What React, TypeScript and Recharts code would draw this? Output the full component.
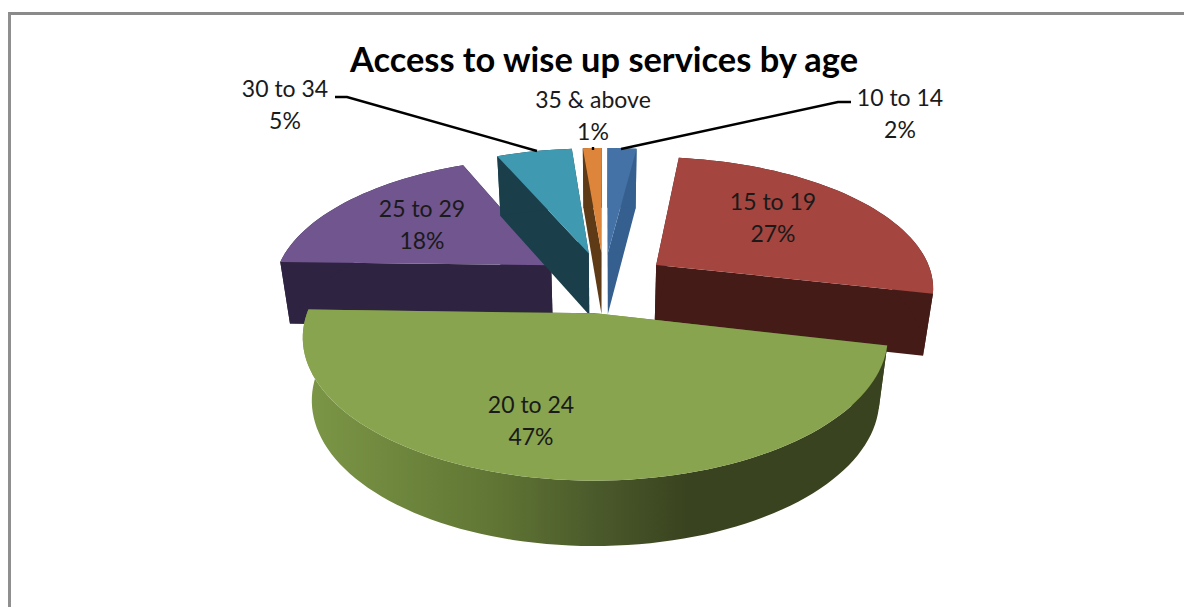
import { PieChart, Pie } from "recharts";

const names = ["10 to 14", "15 to 19", "20 to 24", "25 to 29", "30 to 34", "35 & above"];
const shares = [2, 26.6, 46.9, 18.1, 5.2, 1.3];

const topColors = ["#4472a6", "#a5453f", "#88a44e", "#70558f", "#3f99b1", "#dd863b"];
const sideColors = ["#355f8e", "#451b18", "url(#greenWall)", "#2e2340", "#1a3e4a", "#5f3a16"];

const data = names.map((name, i) => ({ name, value: shares[i], top: topColors[i], side: sideColors[i] }));

// exploded pie, seen in perspective from above
const EXPLODE = 0.234;
const PERSP = 0.158;
const TOP_FLAT = 0.467;
const BOTTOM_FLAT = 0.475;
const BOTTOM_SHRINK = 0.97;
const DEPTH = 62;
const FONT = "Lato, 'Open Sans', sans-serif";

// label centres, with optional leader lines
const labelSpots: Record<string, { x: number; y: number; leader?: string }> = {
  "10 to 14": { x: 900, y: 97, leader: "621,149 838,102 851,102" },
  "15 to 19": { x: 773, y: 201 },
  "20 to 24": { x: 531, y: 404 },
  "25 to 29": { x: 422, y: 208 },
  "30 to 34": { x: 285, y: 88, leader: "335,97 347,97 537,151" },
  "35 & above": { x: 593, y: 99, leader: "593,147 593,150" },
};

function Wedge(props: any) {
  const { cx, cy, outerRadius: R, startAngle, endAngle, payload } = props;
  const mid = ((startAngle + endAngle) / 2) * (Math.PI / 180);
  const ox = Math.cos(mid) * EXPLODE;
  const oy = -Math.sin(mid) * EXPLODE;

  const project = (ux: number, uy: number, bottom: boolean) => {
    const u = ux + ox;
    const v = uy + oy;
    const k = 1 / (1 - PERSP * v);
    if (bottom) {
      return `${cx + R * BOTTOM_SHRINK * u * k},${cy + DEPTH + R * BOTTOM_FLAT * v * k}`;
    }
    return `${cx + R * u * k},${cy + R * TOP_FLAT * v * k}`;
  };

  const rim: [number, number][] = [];
  const steps = Math.max(2, Math.ceil(Math.abs(endAngle - startAngle) / 2));
  for (let i = 0; i <= steps; i++) {
    const a = ((startAngle + ((endAngle - startAngle) * i) / steps) * Math.PI) / 180;
    rim.push([Math.cos(a), -Math.sin(a)]);
  }
  const first = rim[0];
  const last = rim[rim.length - 1];

  const topFace = [project(0, 0, false), ...rim.map((p) => project(p[0], p[1], false))].join(" ");
  const wall = [
    ...rim.map((p) => project(p[0], p[1], false)),
    ...rim.slice().reverse().map((p) => project(p[0], p[1], true)),
  ].join(" ");
  const cut = (p: [number, number]) =>
    [project(0, 0, false), project(p[0], p[1], false), project(p[0], p[1], true), project(0, 0, true)].join(" ");

  return (
    <g>
      <polygon points={cut(last)} fill={payload.side} />
      <polygon points={cut(first)} fill={payload.side} />
      <polygon points={wall} fill={payload.side} />
      <polygon points={topFace} fill={payload.top} />
    </g>
  );
}

function SliceLabel(props: any) {
  const spot = labelSpots[props.name];
  return (
    <g>
      {spot.leader && <polyline points={spot.leader} fill="none" stroke="#000" strokeWidth={2.4} />}
      <text x={spot.x} y={spot.y} textAnchor="middle" dominantBaseline="central" fill="#1a1a1a" fontSize={23} fontFamily={FONT}>
        {props.name}
      </text>
      <text x={spot.x} y={spot.y + 32} textAnchor="middle" dominantBaseline="central" fill="#1a1a1a" fontSize={23} fontFamily={FONT}>
        {`${Math.round(props.value)}%`}
      </text>
    </g>
  );
}

export default function App() {
  return (
    <div style={{ position: "absolute", left: 0, top: 0, width: 1184, height: 607, background: "#fff", overflow: "hidden" }}>
      <div style={{ position: "absolute", left: 8, top: 12, right: -10, bottom: -10, borderTop: "3px solid #8a8a8a", borderLeft: "3px solid #8f8f8f" }} />
      <PieChart width={1184} height={607} margin={{ top: 0, right: 0, bottom: 0, left: 0 }}>
        <defs>
          <linearGradient id="greenWall" x1="0" y1="0" x2="1" y2="0">
            <stop offset="0" stopColor="#7d9747" />
            <stop offset="0.16" stopColor="#6e873d" />
            <stop offset="0.33" stopColor="#607534" />
            <stop offset="0.5" stopColor="#4b5a2b" />
            <stop offset="0.66" stopColor="#39431f" />
            <stop offset="1" stopColor="#39431f" />
          </linearGradient>
        </defs>
        <text x={604} y={58} textAnchor="middle" dominantBaseline="central" fontSize={34.4} fontWeight={700} fill="#000" fontFamily={FONT}>
          Access to wise up services by age
        </text>
        <Pie
          data={data}
          dataKey="value"
          nameKey="name"
          cx={604}
          cy={282}
          outerRadius={278}
          startAngle={90}
          endAngle={-270}
          stroke="none"
          isAnimationActive={false}
          shape={(p: any) => (p.name === "20 to 24" ? <g /> : <Wedge {...p} />)}
        />
        <Pie
          data={data}
          dataKey="value"
          nameKey="name"
          cx={604}
          cy={282}
          outerRadius={278}
          startAngle={90}
          endAngle={-270}
          stroke="none"
          isAnimationActive={false}
          shape={(p: any) => (p.name === "20 to 24" ? <Wedge {...p} /> : <g />)}
          label={(p: any) => <SliceLabel {...p} />}
          labelLine={false}
        />
      </PieChart>
    </div>
  );
}
